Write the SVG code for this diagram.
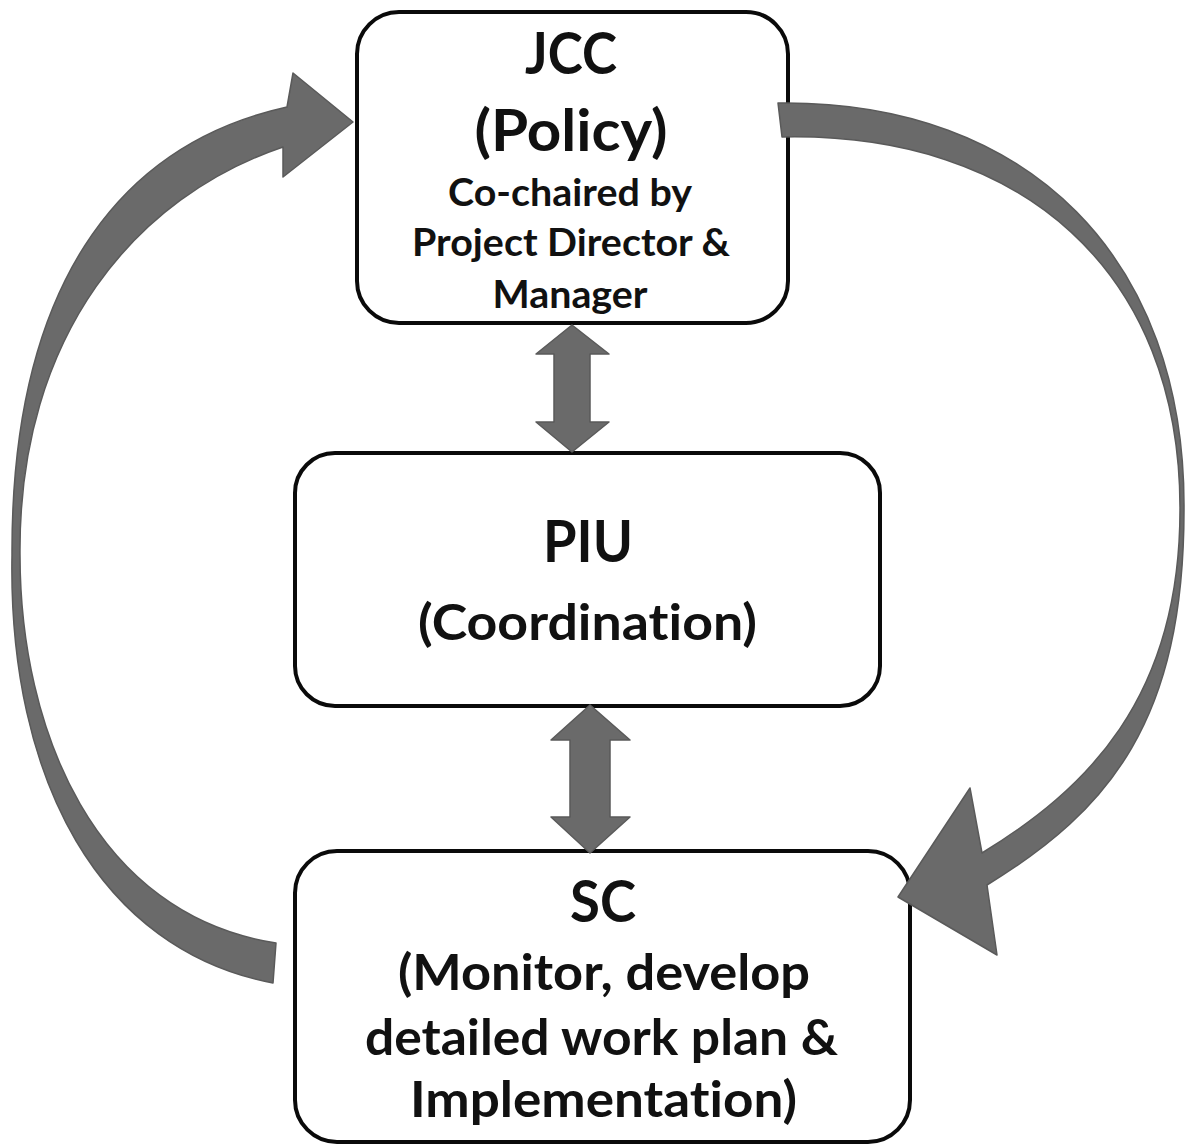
<svg xmlns="http://www.w3.org/2000/svg" width="1186" height="1148" viewBox="0 0 1186 1148">
<style>
.box{fill:#ffffff;stroke:#0a0a0a;stroke-width:4}
.t{font-family:Lato,"Open Sans","Liberation Sans",sans-serif;font-weight:700;fill:#111111;text-anchor:middle;font-variant-ligatures:none;font-feature-settings:"liga" 0,"clig" 0}
.big{font-size:57px}
.mid{font-size:50px}
.sm{font-size:38px}
.arr{fill:#6a6a6a;stroke:#5a5a5a;stroke-width:1.5;stroke-linejoin:round}
</style>
<rect width="1186" height="1148" fill="#ffffff"/>
<g id="jcc">
<rect class="box" x="357" y="12" width="431" height="311" rx="42" ry="42"/>
<text class="t big" x="571" y="74" textLength="92" lengthAdjust="spacingAndGlyphs">JCC</text>
<text class="t big" x="571" y="151" textLength="193" lengthAdjust="spacingAndGlyphs">(Policy)</text>
<text class="t sm" x="570" y="206" textLength="244" lengthAdjust="spacingAndGlyphs">Co-chaired by</text>
<text class="t sm" x="571" y="256" textLength="318" lengthAdjust="spacingAndGlyphs">Project Director &amp;</text>
<text class="t sm" x="570" y="308" textLength="155" lengthAdjust="spacingAndGlyphs">Manager</text>
</g>
<g id="piu">
<rect class="box" x="295" y="453" width="585" height="253" rx="40" ry="40"/>
<text class="t big" x="588" y="562" textLength="90" lengthAdjust="spacingAndGlyphs">PIU</text>
<text class="t mid" x="587.5" y="640" textLength="339" lengthAdjust="spacingAndGlyphs">(Coordination)</text>
</g>
<g id="sc">
<rect class="box" x="295" y="851" width="615" height="291" rx="42" ry="42"/>
<text class="t big" x="603" y="922" textLength="66" lengthAdjust="spacingAndGlyphs">SC</text>
<text class="t mid" x="604" y="990" textLength="412" lengthAdjust="spacingAndGlyphs">(Monitor, develop</text>
<text class="t mid" x="601.5" y="1055" textLength="473" lengthAdjust="spacingAndGlyphs">detailed work plan &amp;</text>
<text class="t mid" x="603.5" y="1117" textLength="387" lengthAdjust="spacingAndGlyphs">Implementation)</text>
</g>
<g id="connectors">
<path class="arr" d="M572,325 L609,354 L590,354 L590,422 L609,422 L572,452 L536,422 L554,422 L554,354 L536,354 Z"/>
<path class="arr" d="M590,705 L630,740 L610,740 L610,817 L630,817 L590,853 L551,817 L570,817 L570,740 L551,740 Z"/>
<path class="arr" d="M273,983 C100,950 8,780 12,555 C11,290 115,145 287,107 L293,73 L353,122 L283,177 L283,147 C138,196 18,333 20,555 C20,730 95,915 276,943 Z"/>
<path class="arr" d="M778,103 C1030,100 1186,260 1184,510 C1184,720 1110,810 987,885 L997,955 L898,897 L970,788 L982,853 C1085,790 1180,700 1180,510 C1181,272 1022,132 782,137 Z"/>
</g>
</svg>
